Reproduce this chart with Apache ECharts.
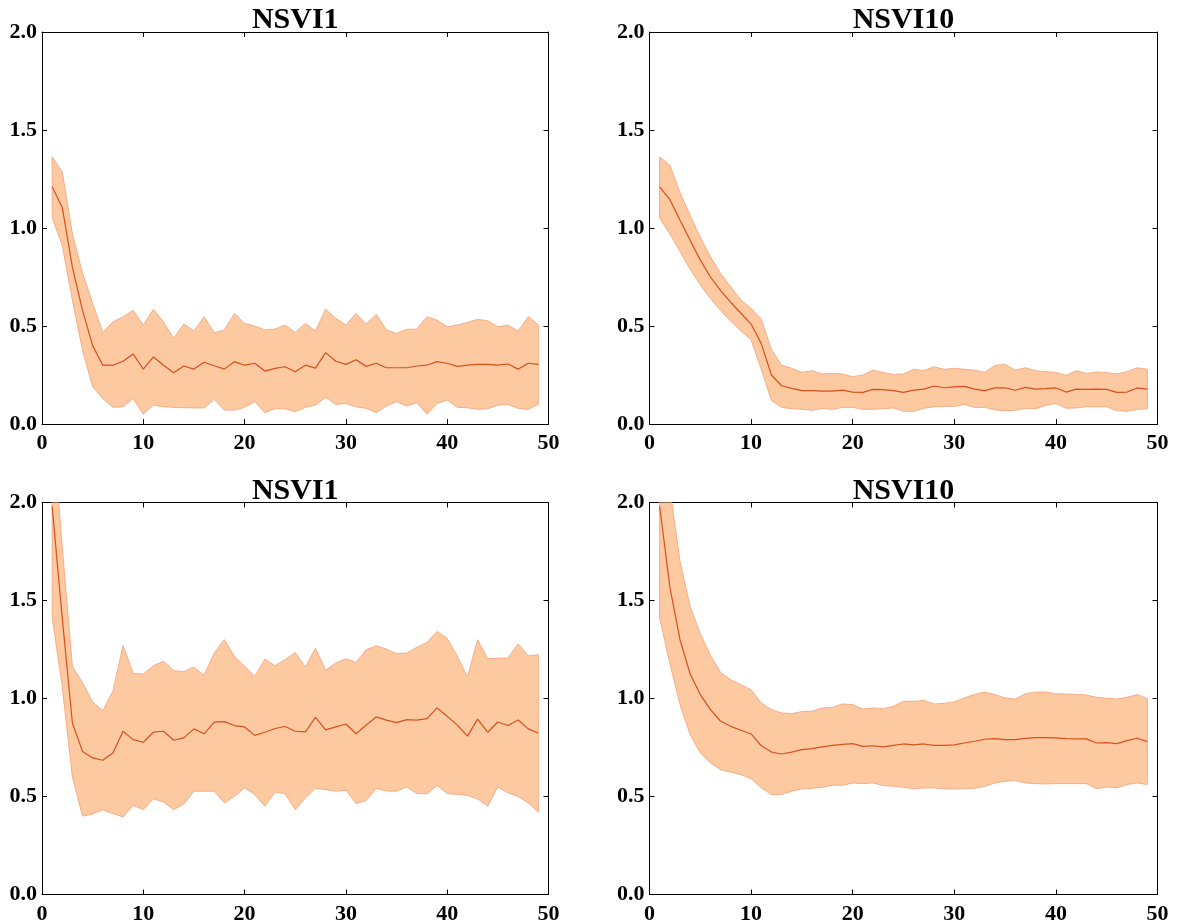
<!DOCTYPE html>
<html>
    <head>
        <title>nsvi_bands</title>
        <script src="https://cdn.jsdelivr.net/npm/echarts@6/dist/echarts.min.js"></script>
        <style>
            body { margin: 0; background: #fff; }
        </style>
    </head>
    <body>
        <div id="main" style="width: 1184px; height: 920px;"></div>
        <script>
            var steps = [1,2,3,4,5,6,7,8,9,10,11,12,13,14,15,16,17,18,19,20,21,22,23,24,25,26,27,28,29,30,31,32,33,34,35,36,37,38,39,40,41,42,43,44,45,46,47,48,49];
            var titles = ['NSVI1', 'NSVI10', 'NSVI1', 'NSVI10'];

            // top left
            var tlMean = [1.21,1.105,0.80,0.58,0.40,0.30,0.30,0.32,0.357,0.28,0.342,0.30,0.262,0.296,0.28,0.315,0.297,0.28,0.318,0.30,0.31,0.27,0.284,0.292,0.267,0.30,0.285,0.364,0.32,0.304,0.328,0.294,0.31,0.287,0.287,0.287,0.296,0.30,0.318,0.31,0.294,0.30,0.304,0.304,0.30,0.306,0.28,0.31,0.304];
            var tlUp = [1.363,1.286,0.97,0.77,0.615,0.467,0.52,0.547,0.58,0.505,0.585,0.52,0.437,0.51,0.474,0.547,0.465,0.48,0.564,0.513,0.50,0.48,0.484,0.505,0.467,0.513,0.474,0.586,0.539,0.505,0.564,0.51,0.559,0.48,0.462,0.483,0.484,0.547,0.53,0.496,0.505,0.518,0.534,0.527,0.496,0.505,0.474,0.547,0.505];
            var tlLow = [1.053,0.912,0.632,0.377,0.19,0.13,0.085,0.088,0.13,0.05,0.097,0.088,0.085,0.083,0.082,0.082,0.126,0.071,0.071,0.085,0.114,0.058,0.078,0.078,0.063,0.085,0.097,0.136,0.10,0.105,0.088,0.08,0.058,0.092,0.114,0.092,0.109,0.05,0.105,0.122,0.085,0.083,0.075,0.078,0.097,0.10,0.08,0.075,0.10];

            // top right
            var trMean = [1.21,1.145,1.04,0.938,0.836,0.75,0.68,0.62,0.565,0.51,0.41,0.25,0.195,0.182,0.17,0.17,0.168,0.168,0.173,0.163,0.161,0.177,0.175,0.17,0.161,0.173,0.178,0.194,0.185,0.189,0.192,0.178,0.17,0.184,0.185,0.172,0.187,0.178,0.18,0.184,0.163,0.178,0.177,0.178,0.177,0.161,0.163,0.184,0.178];
            var trUp = [1.363,1.32,1.18,1.065,0.952,0.853,0.768,0.70,0.632,0.59,0.535,0.38,0.30,0.284,0.263,0.272,0.255,0.258,0.255,0.241,0.25,0.275,0.263,0.253,0.255,0.279,0.272,0.292,0.279,0.284,0.279,0.275,0.263,0.299,0.304,0.275,0.287,0.272,0.267,0.263,0.248,0.272,0.258,0.265,0.262,0.255,0.267,0.287,0.279];
            var trLow = [1.05,0.97,0.88,0.79,0.71,0.64,0.58,0.525,0.475,0.43,0.28,0.12,0.085,0.078,0.075,0.07,0.08,0.075,0.085,0.085,0.075,0.075,0.078,0.082,0.065,0.065,0.08,0.088,0.09,0.09,0.1,0.085,0.085,0.072,0.068,0.07,0.08,0.078,0.095,0.105,0.08,0.082,0.088,0.088,0.088,0.068,0.065,0.075,0.078];

            // bottom left
            var blMean = [1.98,1.41,0.875,0.73,0.697,0.685,0.722,0.833,0.79,0.777,0.828,0.833,0.787,0.799,0.845,0.82,0.879,0.882,0.862,0.855,0.812,0.828,0.847,0.857,0.833,0.83,0.904,0.84,0.855,0.87,0.82,0.865,0.906,0.89,0.877,0.892,0.89,0.897,0.952,0.909,0.864,0.808,0.895,0.828,0.88,0.862,0.89,0.845,0.824];
            var blUp = [2.43,1.77,1.164,1.08,0.982,0.938,1.037,1.271,1.127,1.125,1.167,1.19,1.142,1.137,1.16,1.118,1.232,1.30,1.215,1.164,1.113,1.201,1.167,1.198,1.235,1.16,1.257,1.144,1.181,1.203,1.184,1.249,1.269,1.252,1.229,1.232,1.261,1.286,1.342,1.307,1.215,1.11,1.30,1.203,1.206,1.206,1.278,1.218,1.223];
            var blLow = [1.417,1.06,0.60,0.40,0.41,0.433,0.413,0.396,0.455,0.433,0.488,0.472,0.433,0.462,0.527,0.527,0.527,0.467,0.501,0.544,0.51,0.45,0.523,0.513,0.433,0.493,0.542,0.535,0.527,0.532,0.464,0.479,0.542,0.528,0.527,0.549,0.515,0.513,0.556,0.515,0.511,0.505,0.488,0.45,0.549,0.518,0.501,0.467,0.421];

            // bottom right
            var brMean = [1.98,1.57,1.30,1.125,1.02,0.943,0.884,0.858,0.838,0.819,0.759,0.727,0.717,0.726,0.739,0.744,0.753,0.761,0.766,0.77,0.756,0.759,0.753,0.761,0.768,0.763,0.768,0.761,0.761,0.763,0.773,0.782,0.792,0.795,0.79,0.79,0.797,0.80,0.80,0.799,0.795,0.794,0.794,0.773,0.775,0.77,0.785,0.797,0.78];
            var brUp = [2.7,2.075,1.70,1.47,1.33,1.22,1.133,1.096,1.07,1.045,0.977,0.943,0.926,0.923,0.933,0.935,0.952,0.955,0.972,0.969,0.946,0.952,0.948,0.96,0.986,0.985,0.99,0.972,0.975,0.982,1.003,1.021,1.033,1.02,1.003,0.997,1.024,1.033,1.033,1.024,1.023,1.021,1.018,1.006,1.001,0.997,1.006,1.02,0.999];
            var brLow = [1.41,1.18,0.97,0.816,0.722,0.671,0.637,0.624,0.612,0.591,0.544,0.51,0.51,0.527,0.539,0.542,0.547,0.557,0.557,0.569,0.566,0.569,0.556,0.552,0.547,0.539,0.544,0.544,0.54,0.539,0.539,0.542,0.552,0.569,0.578,0.581,0.569,0.566,0.564,0.566,0.566,0.566,0.566,0.54,0.549,0.544,0.561,0.569,0.561];

            var panels = [
                {mean: tlMean, up: tlUp, low: tlLow, left: 42, top: 32, width: 506.5},
                {mean: trMean, up: trUp, low: trLow, left: 649.5, top: 32, width: 508},
                {mean: blMean, up: blUp, low: blLow, left: 42, top: 502.5, width: 506.5},
                {mean: brMean, up: brUp, low: brLow, left: 649.5, top: 502.5, width: 508}
            ];

            var fontFam = 'Liberation Serif';
            var fillColor = '#fdc9a1';
            var edgeColor = '#f5ad88';
            var lineColor = '#d8501c';

            function band_item(up, low) {
                return function (params, api) {
                    var pts = [];
                    for (var i = 0; i < steps.length; i++) pts.push(api.coord([steps[i], up[i]]));
                    for (var j = steps.length - 1; j >= 0; j--) pts.push(api.coord([steps[j], low[j]]));
                    return {
                        type: 'polygon',
                        shape: {points: pts},
                        style: {fill: fillColor, stroke: edgeColor, lineWidth: 1}
                    };
                };
            }

            function axis_common(show_labels) {
                return {
                    axisLine: {show: true, onZero: false, lineStyle: {color: '#000', width: 1}},
                    axisTick: {show: true, inside: true, length: 5, lineStyle: {color: '#000', width: 1}},
                    splitLine: {show: false},
                    axisLabel: {
                        show: show_labels, color: '#000', fontFamily: fontFam,
                        fontWeight: 'bold', fontSize: 22, margin: 3
                    }
                };
            }

            var grid = [], xAxis = [], yAxis = [], series = [], title = [];
            panels.forEach(function (p, k) {
                grid.push({left: p.left, top: p.top, width: p.width, height: 392, containLabel: false, outerBoundsMode: 'none'});
                title.push({
                    text: titles[k], left: p.left + p.width / 2, top: p.top - 35, textAlign: 'center', padding: 0,
                    textStyle: {fontFamily: fontFam, fontWeight: 'bold', fontSize: 30, color: '#000'}
                });
                var xb = axis_common(true);
                var xt = axis_common(false);
                var yl = axis_common(true);
                var yr = axis_common(false);
                [xb, xt].forEach(function (a, m) {
                    a.type = 'value'; a.gridIndex = k; a.min = 0; a.max = 50; a.interval = 10;
                    a.position = m === 0 ? 'bottom' : 'top';
                });
                [yl, yr].forEach(function (a, m) {
                    a.type = 'value'; a.gridIndex = k; a.min = 0; a.max = 2; a.interval = 0.5;
                    a.position = m === 0 ? 'left' : 'right';
                });
                xb.axisLabel.margin = 2;
                yl.axisLabel.margin = 5;
                yl.axisLabel.formatter = function (v) { return v.toFixed(1); };
                xAxis.push(xb, xt);
                yAxis.push(yl, yr);
                series.push({
                    type: 'custom',
                    xAxisIndex: 2 * k, yAxisIndex: 2 * k,
                    clip: true, silent: true,
                    data: [[1, 0.5]],
                    renderItem: band_item(p.up, p.low)
                });
                series.push({
                    type: 'line',
                    xAxisIndex: 2 * k, yAxisIndex: 2 * k,
                    showSymbol: false, silent: true, clip: true,
                    lineStyle: {color: lineColor, width: 1.2},
                    data: steps.map(function (s, i) { return [s, p.mean[i]]; })
                });
            });

            var myChart = echarts.init(document.getElementById('main'));
            myChart.setOption({
                animation: false,
                backgroundColor: '#fff',
                title: title,
                grid: grid,
                xAxis: xAxis,
                yAxis: yAxis,
                series: series
            });
        </script>
    </body>
</html>
